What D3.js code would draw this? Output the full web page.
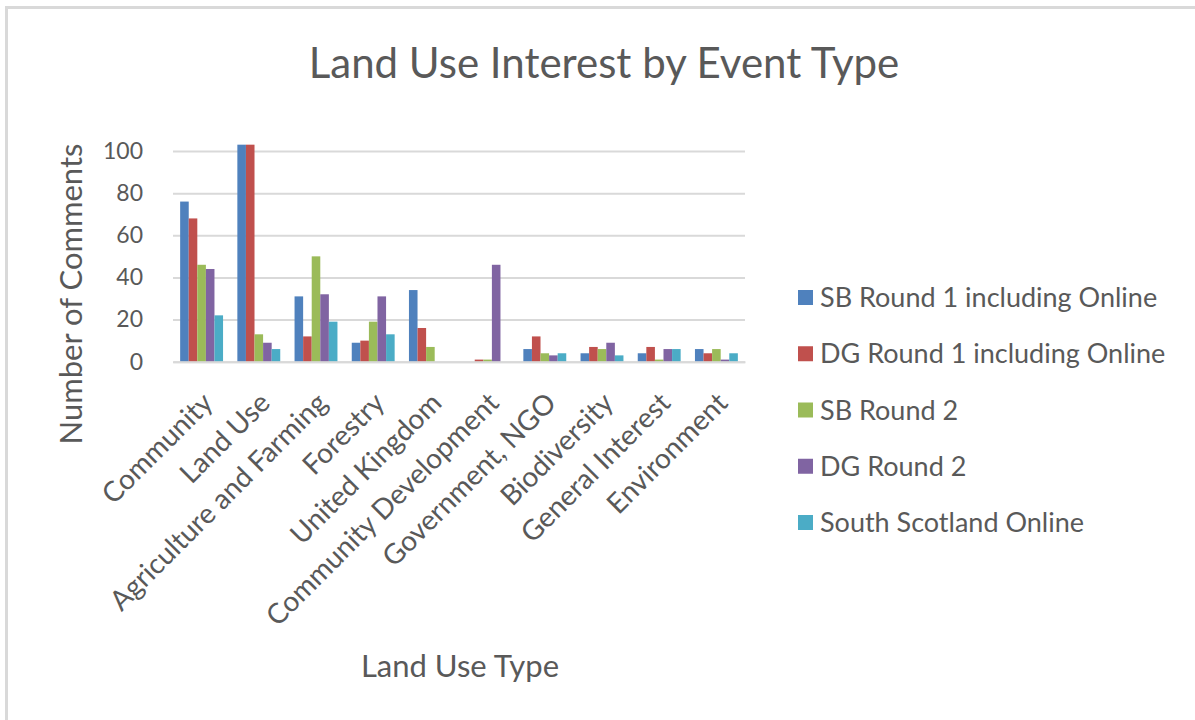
<!DOCTYPE html>
<html>
<head>
<meta charset="utf-8">
<script src="https://cdn.jsdelivr.net/npm/d3@7"></script>
<style>
  html, body { margin: 0; padding: 0; background: #fff; }
  svg { display: block; }
  text { font-family: Lato, "Open Sans", sans-serif; fill: #595959; }
</style>
</head>
<body>
<svg id="chart" width="1195" height="720"></svg>
<script>
// Land use categories along the x axis
const categories = [
  "Community", "Land Use", "Agriculture and Farming", "Forestry", "United Kingdom",
  "Community Development", "Government, NGO", "Biodiversity", "General Interest", "Environment"
];

// Event series names
const seriesNames = [
  "SB Round 1 including Online",
  "DG Round 1 including Online",
  "SB Round 2",
  "DG Round 2",
  "South Scotland Online"
];

// Comment counts per series, in category order
const sbRound1 = [76, 103, 31, 9, 34, 0, 6, 4, 4, 6];
const dgRound1 = [68, 103, 12, 10, 16, 1, 12, 7, 7, 4];
const sbRound2 = [46, 13, 50, 19, 7, 1, 4, 6, 1, 6];
const dgRound2 = [44, 9, 32, 31, 0, 46, 3, 9, 6, 1];
const southScotlandOnline = [22, 6, 19, 13, 0, 0, 4, 3, 6, 4];

const yTicks = [0, 20, 40, 60, 80, 100];

const seriesValues = [sbRound1, dgRound1, sbRound2, dgRound2, southScotlandOnline];
const colors = ["#4F81BD", "#C0504D", "#9BBB59", "#8064A2", "#4BACC6"];

const svg = d3.select("#chart");

// Chart frame (top and left edges)
svg.append("line").attr("x1", 5).attr("x2", 1195).attr("y1", 7.5).attr("y2", 7.5)
  .attr("stroke", "#d9d9d9").attr("stroke-width", 3);
svg.append("line").attr("x1", 6.5).attr("x2", 6.5).attr("y1", 6).attr("y2", 720)
  .attr("stroke", "#d9d9d9").attr("stroke-width", 3);

const plot = { left: 173, right: 745, top: 151, bottom: 361.7 };

const x = d3.scaleBand()
  .domain(categories)
  .range([plot.left, plot.right])
  .paddingInner(0.25)
  .paddingOuter(0.125);

const xs = d3.scaleBand()
  .domain(d3.range(seriesNames.length))
  .range([0, x.bandwidth()]);

const y = d3.scaleLinear().domain([0, 100]).range([plot.bottom, plot.top]);

// Title
svg.append("text")
  .attr("x", 604).attr("y", 78)
  .attr("text-anchor", "middle")
  .style("font-size", "42px")
  .text("Land Use Interest by Event Type");

// Gridlines and y tick labels
const yAxis = d3.axisLeft(y).tickValues(yTicks).tickSize(-(plot.right - plot.left)).tickPadding(30);
const gy = svg.append("g").attr("transform", `translate(${plot.left},0)`).call(yAxis);
gy.select(".domain").remove();
gy.selectAll(".tick line").attr("stroke", "#d9d9d9").attr("stroke-width", 2);
gy.selectAll(".tick text").style("font-size", "23px").attr("fill", "#595959")
  .style("font-family", "Lato, 'Open Sans', sans-serif");

// Bars
const groups = svg.append("g").selectAll("g")
  .data(seriesValues)
  .join("g")
  .attr("fill", (d, i) => colors[i]);

groups.each(function (vals, si) {
  d3.select(this).selectAll("rect")
    .data(vals)
    .join("rect")
    .attr("x", (v, ci) => x(categories[ci]) + xs(si))
    .attr("width", xs.bandwidth())
    .attr("y", v => y(v))
    .attr("height", v => y(0) - y(v));
});

// Category axis
const xAxis = d3.axisBottom(x).tickSize(0).tickPadding(0);
const gx = svg.append("g").attr("transform", `translate(0,${plot.bottom})`).call(xAxis);
gx.select(".domain").attr("stroke", "#d9d9d9").attr("stroke-width", 2);
gx.selectAll(".tick text")
  .style("font-size", "28px")
  .style("font-family", "Lato, 'Open Sans', sans-serif")
  .attr("fill", "#595959")
  .attr("text-anchor", "end")
  .attr("dy", "0.35em")
  .attr("transform", "translate(6,36) rotate(-45)");

// Axis titles
svg.append("text")
  .attr("transform", "translate(82,294) rotate(-90)")
  .attr("text-anchor", "middle")
  .style("font-size", "31px")
  .text("Number of Comments");

svg.append("text")
  .attr("x", 460).attr("y", 677)
  .attr("text-anchor", "middle")
  .style("font-size", "31px")
  .text("Land Use Type");

// Legend
const legend = svg.append("g").selectAll("g")
  .data(seriesNames)
  .join("g")
  .attr("transform", (d, i) => `translate(798,${297.5 + i * 56.25})`);
legend.append("rect")
  .attr("x", 0).attr("y", -7.5).attr("width", 15).attr("height", 15)
  .attr("fill", (d, i) => colors[i]);
legend.append("text")
  .attr("x", 22).attr("dy", "0.36em")
  .style("font-size", "27px")
  .text(d => d);
</script>
</body>
</html>
